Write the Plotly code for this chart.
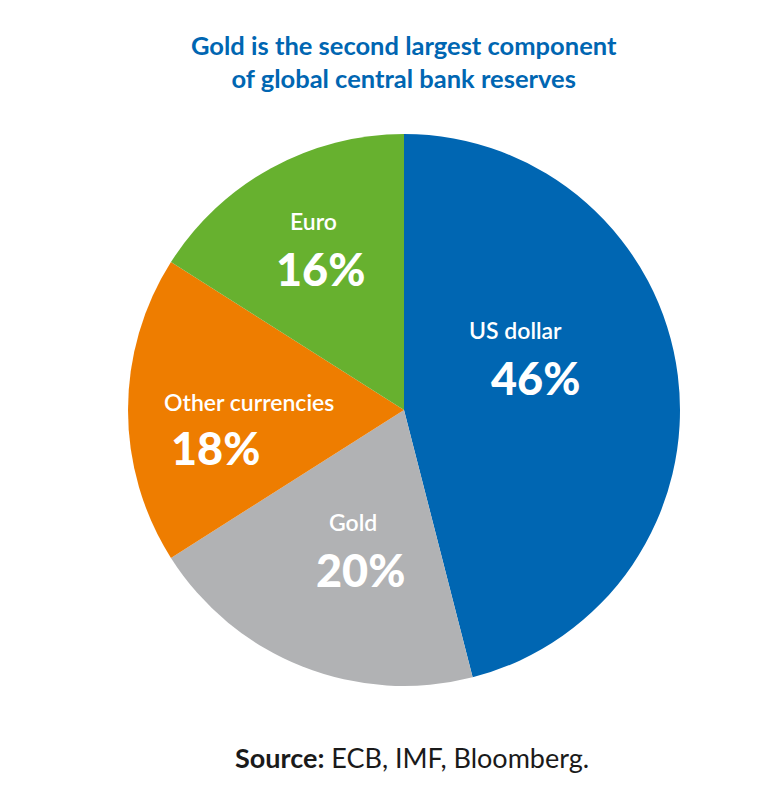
import plotly.graph_objects as go

labels = ["US dollar", "Gold", "Other currencies", "Euro"]
values = [46, 20, 18, 16]
colors = ["#0066B2", "#B1B2B4", "#EE7D00", "#67B12F"]
# label anchor positions (pixels in 776x808 canvas): name line and percent line
name_pos = [(515, 330), (353, 522), (249, 402), (313, 221)]
pct_pos = [(535, 378), (360, 570), (215, 448), (320, 269)]

W, H = 776, 808
cx, cy, r = 404, 410, 276

fig = go.Figure(go.Pie(
    labels=labels, values=values, sort=False, direction="clockwise", rotation=0,
    marker=dict(colors=colors, line=dict(width=0)),
    textinfo="none", hoverinfo="label+percent", showlegend=False,
    domain=dict(x=[(cx - r) / W, (cx + r) / W], y=[1 - (cy + r) / H, 1 - (cy - r) / H]),
))

FONT = "Lato, 'Open Sans', sans-serif"
ann = []
for lab, v, (nx, ny), (px, py) in zip(labels, values, name_pos, pct_pos):
    ann.append(dict(x=nx / W, y=1 - ny / H, xref="paper", yref="paper", showarrow=False,
                    text=lab, font=dict(family=FONT, size=23, color="white", weight=600),
                    xanchor="center", yanchor="middle"))
    ann.append(dict(x=px / W, y=1 - py / H, xref="paper", yref="paper", showarrow=False,
                    text=f"{v}%", font=dict(family=FONT, size=45, color="white", weight=900),
                    xanchor="center", yanchor="middle"))

ann.append(dict(x=404 / W, y=1 - 62 / H, xref="paper", yref="paper", showarrow=False,
                text="<b>Gold is the second largest component<br>of global central bank reserves</b>",
                font=dict(family=FONT, size=25.5, color="#0066B2"), align="center",
                xanchor="center", yanchor="middle"))
ann.append(dict(x=412 / W, y=1 - 757 / H, xref="paper", yref="paper", showarrow=False,
                text="<b>Source:</b> ECB, IMF, Bloomberg.",
                font=dict(family=FONT, size=27, color="#1a1a1a"),
                xanchor="center", yanchor="middle"))

fig.update_layout(width=W, height=H, margin=dict(l=0, r=0, t=0, b=0),
                  paper_bgcolor="white", plot_bgcolor="white", annotations=ann)
fig.write_html("out.html")
